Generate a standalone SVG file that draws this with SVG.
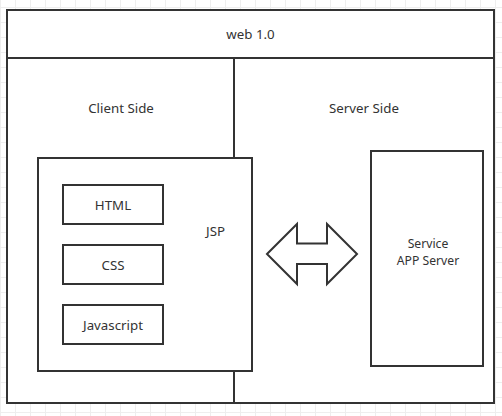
<svg xmlns="http://www.w3.org/2000/svg" width="502" height="416" viewBox="0 0 502 416">
  <defs>
    <pattern id="grid" x="0" y="7" width="15" height="15" patternUnits="userSpaceOnUse">
      <path d="M0.5 0V15M0 0.5H15" fill="none" stroke="#eeeeee" stroke-width="1"/>
    </pattern>
  </defs>
  <style>
    .box { fill: #ffffff; stroke: #333333; stroke-width: 2; }
    .line { fill: none; stroke: #333333; stroke-width: 2; }
    .lbl { font-family: "Noto Sans", "Open Sans", "Liberation Sans", sans-serif; font-size: 13.3px; fill: #333333; text-anchor: middle; }
    .lbl2 { font-size: 12.2px; }
  </style>
  <rect x="0" y="0" width="502" height="416" fill="#ffffff"/>
  <rect x="0" y="0" width="502" height="416" fill="url(#grid)"/>

  <g id="web10-container">
    <rect class="box" x="7" y="10" width="487" height="393"/>
    <line class="line" x1="7" y1="58" x2="494" y2="58"/>
    <text class="lbl" x="250.5" y="38.5">web 1.0</text>
  </g>

  <g id="client-side">
    <line class="line" x1="234" y1="58" x2="234" y2="403"/>
    <text class="lbl" x="121" y="112.5">Client Side</text>
  </g>

  <g id="server-side">
    <text class="lbl" x="364" y="112.5">Server Side</text>
  </g>

  <g id="jsp">
    <rect class="box" x="38" y="158" width="214" height="213"/>
    <text class="lbl" x="215.5" y="236">JSP</text>
  </g>

  <g id="html">
    <rect class="box" x="63" y="185" width="100" height="39"/>
    <text class="lbl" x="113" y="210">HTML</text>
  </g>

  <g id="css">
    <rect class="box" x="63" y="245" width="100" height="39"/>
    <text class="lbl" x="113" y="270">CSS</text>
  </g>

  <g id="javascript">
    <rect class="box" x="63" y="305" width="100" height="39"/>
    <text class="lbl" x="113" y="330">Javascript</text>
  </g>

  <g id="service-app-server">
    <rect class="box" x="371" y="151" width="112" height="215"/>
    <text class="lbl lbl2" x="428" y="247.5">Service</text>
    <text class="lbl lbl2" x="428" y="264.5">APP Server</text>
  </g>

  <g id="exchange-arrow">
    <polygon class="box" points="267,254 297,224 297,243.5 327,243.5 327,224 357,254 327,284 327,264 297,264 297,284"/>
  </g>

  <g id="connectors"></g>
</svg>
